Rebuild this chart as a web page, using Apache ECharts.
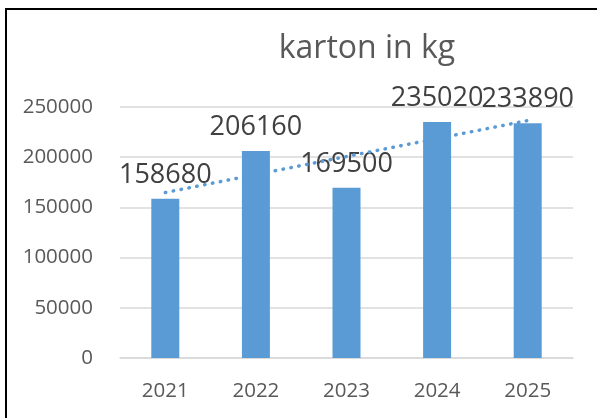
<!DOCTYPE html>
<html>
<head>
<meta charset="utf-8">
<script src="https://cdn.jsdelivr.net/npm/echarts@6/dist/echarts.min.js"></script>
<style>
  html, body { margin: 0; padding: 0; background: #fff; }
  #chart { width: 597px; height: 418px; }
</style>
</head>
<body>
<div id="chart"></div>
<script>
const years = ['2021', '2022', '2023', '2024', '2025']
const kartonKg = [158680, 206160, 169500, 235020, 233890]
// trend line ends
const trendKg = [164800, null, null, null, 236500]
const yTicks = { min: 0, max: 250000, interval: 50000 }

const font = 'Open Sans'
const chart = echarts.init(document.getElementById('chart'))

chart.setOption({
  animation: false,
  backgroundColor: '#fff',
  title: {
    text: 'karton in kg',
    left: 362,
    top: 28,
    textAlign: 'center',
    textStyle: { fontFamily: font, fontSize: 32, fontWeight: 'normal', color: '#595959' }
  },
  graphic: [{
    type: 'rect',
    shape: { x: 6, y: 9, width: 700, height: 500 },
    style: { fill: 'none', stroke: '#000', lineWidth: 2 },
    silent: true
  }],
  grid: { left: 120, top: 107, right: 24, bottom: 60 },
  xAxis: {
    type: 'category',
    data: years,
    axisLine: { lineStyle: { color: '#D9D9D9', width: 1.5 } },
    axisTick: { show: false },
    axisLabel: { fontFamily: font, fontSize: 20.5, color: '#595959', margin: 23 }
  },
  yAxis: {
    type: 'value',
    min: yTicks.min,
    max: yTicks.max,
    interval: yTicks.interval,
    axisLine: { show: false },
    axisTick: { show: false },
    splitLine: { lineStyle: { color: '#D9D9D9', width: 1.5 } },
    axisLabel: {
      fontFamily: font,
      fontSize: 20.5,
      color: '#595959',
      margin: 27,
      formatter: v => String(v)
    }
  },
  series: [
    {
      type: 'bar',
      data: kartonKg,
      barWidth: 28,
      itemStyle: { color: '#5B9BD5' },
      label: {
        show: true,
        position: 'top',
        distance: 10,
        fontFamily: font,
        fontSize: 27,
        color: '#404040'
      }
    },
    {
      type: 'line',
      data: trendKg,
      connectNulls: true,
      symbol: 'none',
      z: 3,
      lineStyle: { color: '#5B9BD5', width: 3.5, type: [0.5, 7.5], cap: 'round' }
    }
  ]
})
</script>
</body>
</html>
